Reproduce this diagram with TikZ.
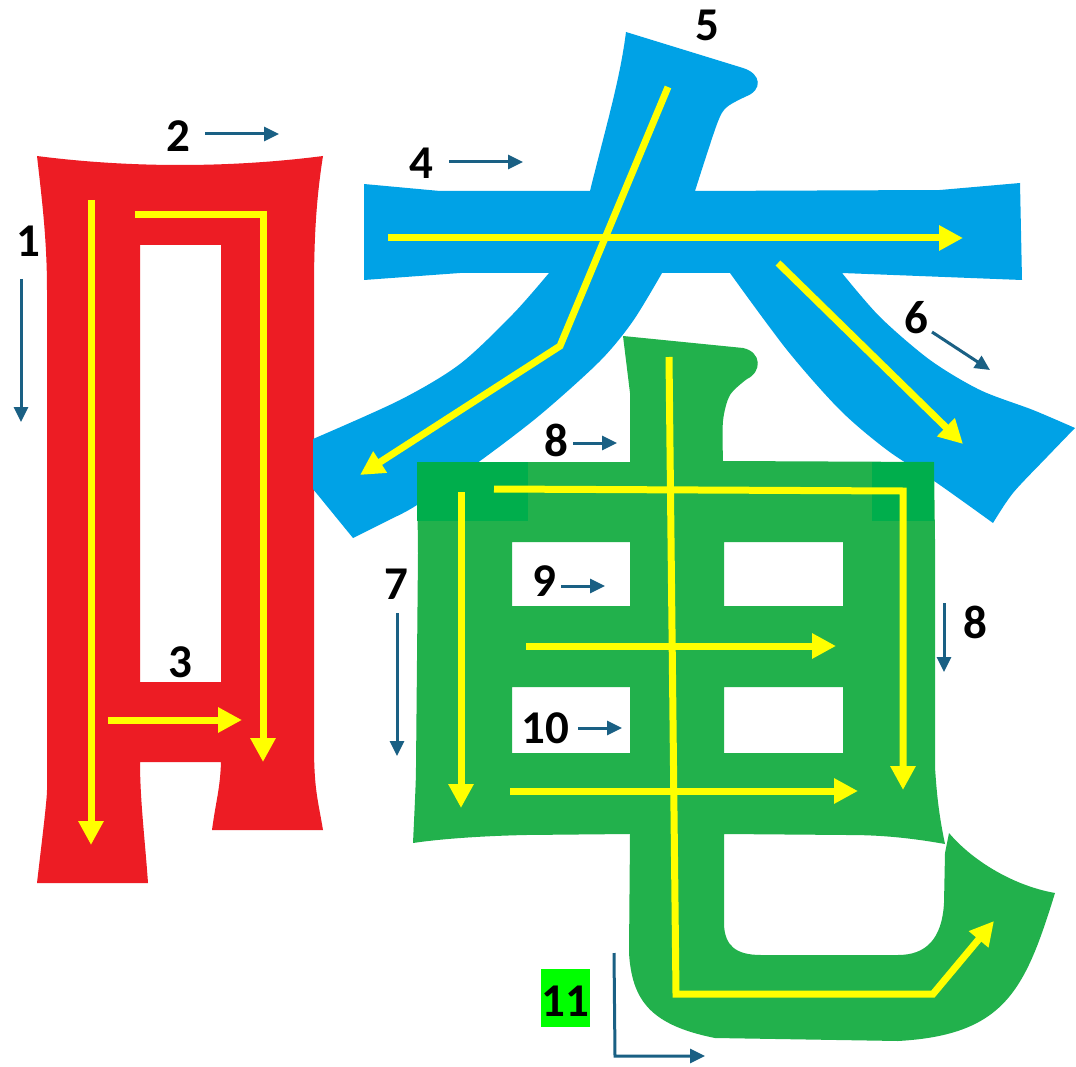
\documentclass[tikz,border=0pt]{standalone}
\usepackage{fontspec}
\setmainfont{Carlito}
\usetikzlibrary{arrows.meta}
\definecolor{redc}{RGB}{237,28,36}
\definecolor{bluec}{RGB}{0,162,230}
\definecolor{greenc}{RGB}{34,177,76}
\definecolor{dgreenc}{RGB}{0,174,76}
\definecolor{yel}{RGB}{255,255,0}
\definecolor{navy}{RGB}{26,96,132}
\definecolor{lgreen}{RGB}{0,255,0}
\tikzset{
  ystroke/.style={draw=yel,line width=7pt,line join=miter,-{Triangle[length=24pt,width=24pt]}},
  dirarrow/.style={draw=navy,line width=3pt,-{Triangle[length=15pt,width=14pt]}},
  numlabel/.style={inner sep=0pt,font=\fontsize{47}{47}\selectfont\bfseries,text=black},
}
\begin{document}
\begin{tikzpicture}[x=1pt,y=-1pt]
\useasboundingbox (0,0) rectangle (1076,1067);
\fill[white] (0,0) rectangle (1076,1067);
% red (mouth)
\fill[redc,even odd rule]
  (37,156) .. controls (130,168) and (230,168) .. (323,156)
  .. controls (316,200) and (314,240) .. (314,290) -- (314,745)
  .. controls (314,790) and (318,800) .. (323,830) -- (212,830)
  .. controls (216,800) and (220,790) .. (221,762) -- (140,762)
  .. controls (140,800) and (145,840) .. (148,883) -- (37,883)
  .. controls (42,840) and (47,800) .. (47,790) -- (47,290)
  .. controls (47,240) and (42,200) .. (37,156) -- cycle
  (140,245) rectangle (221,682);
% blue (da)
\fill[bluec] (364,184) -- (440,191) -- (590,191)
  .. controls (605,130) and (620,80) .. (626,32)
  -- (743,68) .. controls (762,74) and (762,90) .. (747,96)
  -- plot[smooth] coordinates {(747,96) (727,107) (717,124) (695,191)}
  -- (940,190) -- (1020,183) -- (1022,280) -- (842,273)
  -- plot[smooth] coordinates {(842,273) (880,317) (930,360) (980,390) (1033,410) (1075,428)}
  -- plot[smooth] coordinates {(1075,428) (1047,457) (1013,493) (993,523)}
  -- plot[smooth] coordinates {(993,523) (937,483) (887,450) (840,410) (787,350) (730,273)}
  -- (662,273)
  -- plot[smooth] coordinates {(662,273) (633,321) (600,361) (540,415) (480,461) (417,505) (387,521) (353,538)}
  -- (313,489) -- (313,439)
  -- plot[smooth] coordinates {(313,439) (400,400) (460,364) (513,314) (549,273)}
  -- (460,273) -- (364,280) -- cycle;
% green (electric)
\fill[greenc,even odd rule]
  (623,336) -- (743,348) .. controls (762,352) and (762,372) .. (747,379)
  -- plot[smooth] coordinates {(747,379) (730,395) (723,421) (723,461)}
  -- (934,462) -- (935,540) -- (935,767)
  .. controls (937,800) and (940,820) .. (945,844)
  .. controls (900,836) and (870,835) .. (847,835) -- (724,834)
  -- (724,925) .. controls (725,945) and (735,955) .. (761,955)
  -- (898,955) .. controls (925,955) and (942,940) .. (944,903)
  -- (945,853) -- (949,833)
  .. controls (970,858) and (1010,885) .. (1055,893)
  .. controls (1025,990) and (1005,1035) .. (898,1041)
  -- (715,1038)
  .. controls (650,1025) and (632,1000) .. (629,953)
  -- (630,834) -- (526,835) .. controls (480,836) and (440,839) .. (413,843)
  .. controls (415,800) and (416,780) .. (416,767) -- (418,553) -- (417,462)
  -- (630,462) -- (630,393) -- (623,336) -- cycle
  (512,542) rectangle (630,606)
  (724,542) rectangle (843,606)
  (512,687) rectangle (630,753)
  (724,687) rectangle (843,753);
\fill[dgreenc] (417,462) rectangle (528,521);
\fill[dgreenc] (872,462) rectangle (934,521);
% yellow stroke arrows
\draw[ystroke] (91,200) -- (91,845);
\draw[ystroke] (135,215) -- (263,215) -- (263,762);
\draw[ystroke] (108,720) -- (242,720);
\draw[ystroke] (388,238) -- (963,238);
\draw[ystroke] (668,87) -- (560,346) -- (360,475);
\draw[ystroke] (778,263) -- (963,444);
\draw[ystroke] (461,492) -- (461,808);
\draw[ystroke] (494,489) -- (903,491) -- (903,790);
\draw[ystroke] (526,646) -- (836,646);
\draw[ystroke] (510,791) -- (858,791);
\draw[ystroke] (669,357) -- (676,994) -- (933,994) -- (994,921);
% labels
\node[numlabel] (n1) at (28,241) {1};
\node[numlabel] (n2) at (178,136) {2};
\node[numlabel] (n3) at (180,662) {3};
\node[numlabel] (n4) at (421,163) {4};
\node[numlabel] (n5) at (707,25) {5};
\node[numlabel] (n6) at (916,318) {6};
\node[numlabel] (n7) at (396,584) {7};
\node[numlabel] (n8a) at (556,440) {8};
\node[numlabel] (n9) at (544,581) {9};
\node[numlabel] (n10) at (545,728) {10};
\node[numlabel] (n8b) at (975,622) {8};
\fill[lgreen] (541,969) rectangle (590,1027);
\node[numlabel] (n11) at (565,1001) {11};
% direction arrows
\draw[dirarrow] (21,279) -- (21,422);
\draw[dirarrow] (205,134) -- (279,134);
\draw[dirarrow] (449,162) -- (523,162);
\draw[dirarrow] (932,332) -- (990,370);
\draw[dirarrow] (397,613) -- (397,756);
\draw[dirarrow] (573,443) -- (617,443);
\draw[dirarrow] (561,586) -- (605,586);
\draw[dirarrow] (578,728) -- (622,728);
\draw[dirarrow] (944,603) -- (944,672);
\draw[dirarrow,line join=miter] (614,953) -- (615,1056) -- (705,1056);
\end{tikzpicture}
\end{document}
